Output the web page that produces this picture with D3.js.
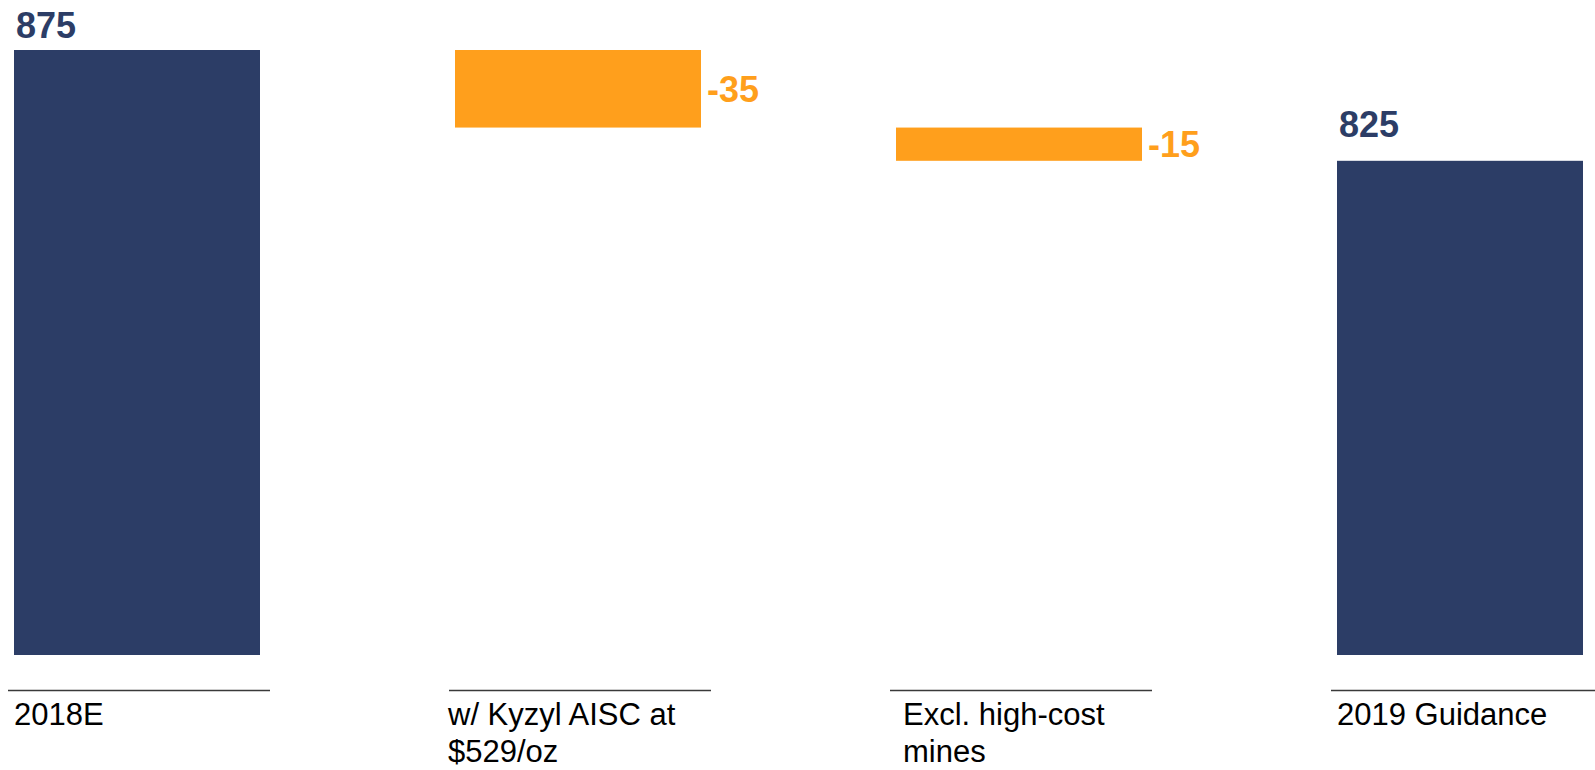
<!DOCTYPE html>
<html>
<head>
<meta charset="utf-8">
<script src="https://cdn.jsdelivr.net/npm/d3@7"></script>
<style>
  html, body { margin: 0; padding: 0; background: #fff; }
  svg { display: block; font-family: "Liberation Sans", Arial, sans-serif; }
</style>
</head>
<body>
<svg id="chart" width="1595" height="770"></svg>
<script>
// ---- data ----
const categories = ["2018E", "w/ Kyzyl AISC at\n$529/oz", "Excl. high-cost\nmines", "2019 Guidance"];
const values = [875, -35, -15, 825];
const kinds = ["total", "delta", "delta", "total"];
const valueLabels = ["875", "-35", "-15", "825"];
const axisMin = 602; // broken-axis baseline of the chart

// ---- layout ----
const W = 1595, H = 770;
const navy = "#2C3D66", orange = "#FF9F1C";
const svg = d3.select("#chart");

const x = d3.scaleBand().domain(d3.range(categories.length))
  .range([14, 1583]).paddingInner(195 / 441).paddingOuter(0);
const xs = i => x(i);

const y = d3.scaleLinear().domain([axisMin, 875]).range([655, 50]);

// compute waterfall segments
let running = 0;
const segs = values.map((v, i) => {
  let lo, hi;
  if (kinds[i] === "total") { lo = axisMin; hi = v; running = v; }
  else { const prev = running; running = prev + v; lo = Math.min(prev, running); hi = Math.max(prev, running); }
  return { i, lo, hi, v, kind: kinds[i] };
});

svg.selectAll("rect.bar").data(segs).enter().append("rect")
  .attr("class", "bar")
  .attr("x", d => xs(d.i))
  .attr("width", x.bandwidth())
  .attr("y", d => y(d.hi))
  .attr("height", d => y(d.lo) - y(d.hi))
  .attr("fill", d => d.kind === "total" ? navy : orange);

// value labels
svg.selectAll("text.val").data(segs).enter().append("text")
  .attr("class", "val")
  .attr("x", d => d.kind === "total" ? xs(d.i) + 2 : xs(d.i) + x.bandwidth() + 6)
  .attr("y", d => d.kind === "total" ? y(d.hi) - (d.i === 0 ? 12 : 24) : (y(d.hi) + y(d.lo)) / 2 + 13)
  .attr("font-size", 36)
  .attr("font-weight", "bold")
  .attr("fill", d => d.kind === "total" ? navy : orange)
  .text((d, i) => valueLabels[i]);

// category underline
svg.selectAll("line.cat").data(categories).enter().append("line")
  .attr("class", "cat")
  .attr("x1", (d, i) => xs(i) - 6)
  .attr("x2", (d, i) => i === categories.length - 1 ? W : xs(i) + 256)
  .attr("y1", 690.5).attr("y2", 690.5)
  .attr("stroke", "#3a3a3a")
  .attr("stroke-width", 1.6);

// category labels
const catText = svg.selectAll("text.cat").data(categories).enter().append("text")
  .attr("class", "cat")
  .attr("font-size", 31)
  .attr("fill", "#000");
catText.each(function(d, i) {
  const t = d3.select(this);
  d.split("\n").forEach((line, k) => {
    t.append("tspan").attr("x", xs(i) + (i === 1 ? -7 : i === 2 ? 7 : 0)).attr("y", 725 + k * 37).text(line);
  });
});
</script>
</body>
</html>
